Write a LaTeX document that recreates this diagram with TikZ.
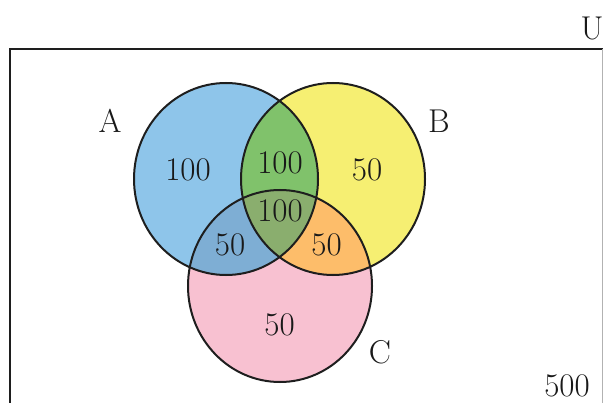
\documentclass[tikz,border=0pt]{standalone}
\usepackage{tikz}
\definecolor{cA}{HTML}{8EC5EA}
\definecolor{cB}{HTML}{F6EF72}
\definecolor{cC}{HTML}{F8C1D1}
\definecolor{cAB}{HTML}{80C26B}
\definecolor{cAC}{HTML}{7EAED4}
\definecolor{cBC}{HTML}{FDBD6A}
\definecolor{cABC}{HTML}{8AAE6E}
\definecolor{edge}{HTML}{1E1E1E}
\def\pathA{(226,179) ellipse [x radius=92pt, y radius=96pt]}
\def\pathB{(333,179) ellipse [x radius=92pt, y radius=96pt]}
\def\pathC{(280,286) ellipse [x radius=92pt, y radius=96pt]}
\tikzset{
  lbl/.style={inner sep=0pt, font=\fontsize{33}{39}\selectfont, text=black!90},
  outline/.style={draw=edge, line width=2pt},
}
\begin{document}
\begin{tikzpicture}[x=1pt,y=-1pt]
\useasboundingbox (0,0) rectangle (604,403);
\clip (0,0) rectangle (604,403);
% universe rectangle
\draw[edge, line width=2pt] (10,420) -- (10,49) -- (602.5,49);
\draw[gray!60, line width=0.8pt] (602.5,49) -- (602.5,420);
% base fills
\fill[cC] \pathC;
\fill[cA] \pathA;
\fill[cB] \pathB;
\begin{scope}\clip \pathA; \fill[cAB] \pathB; \end{scope}
\begin{scope}\clip \pathA; \fill[cAC] \pathC; \end{scope}
\begin{scope}\clip \pathB; \fill[cBC] \pathC; \end{scope}
\begin{scope}\clip \pathA; \clip \pathB; \fill[cABC] \pathC; \end{scope}
% outlines
\draw[outline] \pathA;
\draw[outline] \pathB;
\draw[outline] \pathC;
% labels
\node[lbl] (U) at (592,28) {U};
\node[lbl] (A) at (110,121) {A};
\node[lbl] (B) at (439,121) {B};
\node[lbl] (C) at (380,352) {C};
\node[lbl] (nA) at (188,170) {100};
\node[lbl] (nAB) at (280,163) {100};
\node[lbl] (nB) at (367,170) {50};
\node[lbl] (nABC) at (280,211) {100};
\node[lbl] (nAC) at (230,245) {50};
\node[lbl] (nBC) at (326.5,245) {50};
\node[lbl] (nC) at (279.5,325) {50};
\node[lbl] (nU) at (567,386) {500};
\end{tikzpicture}
\end{document}
